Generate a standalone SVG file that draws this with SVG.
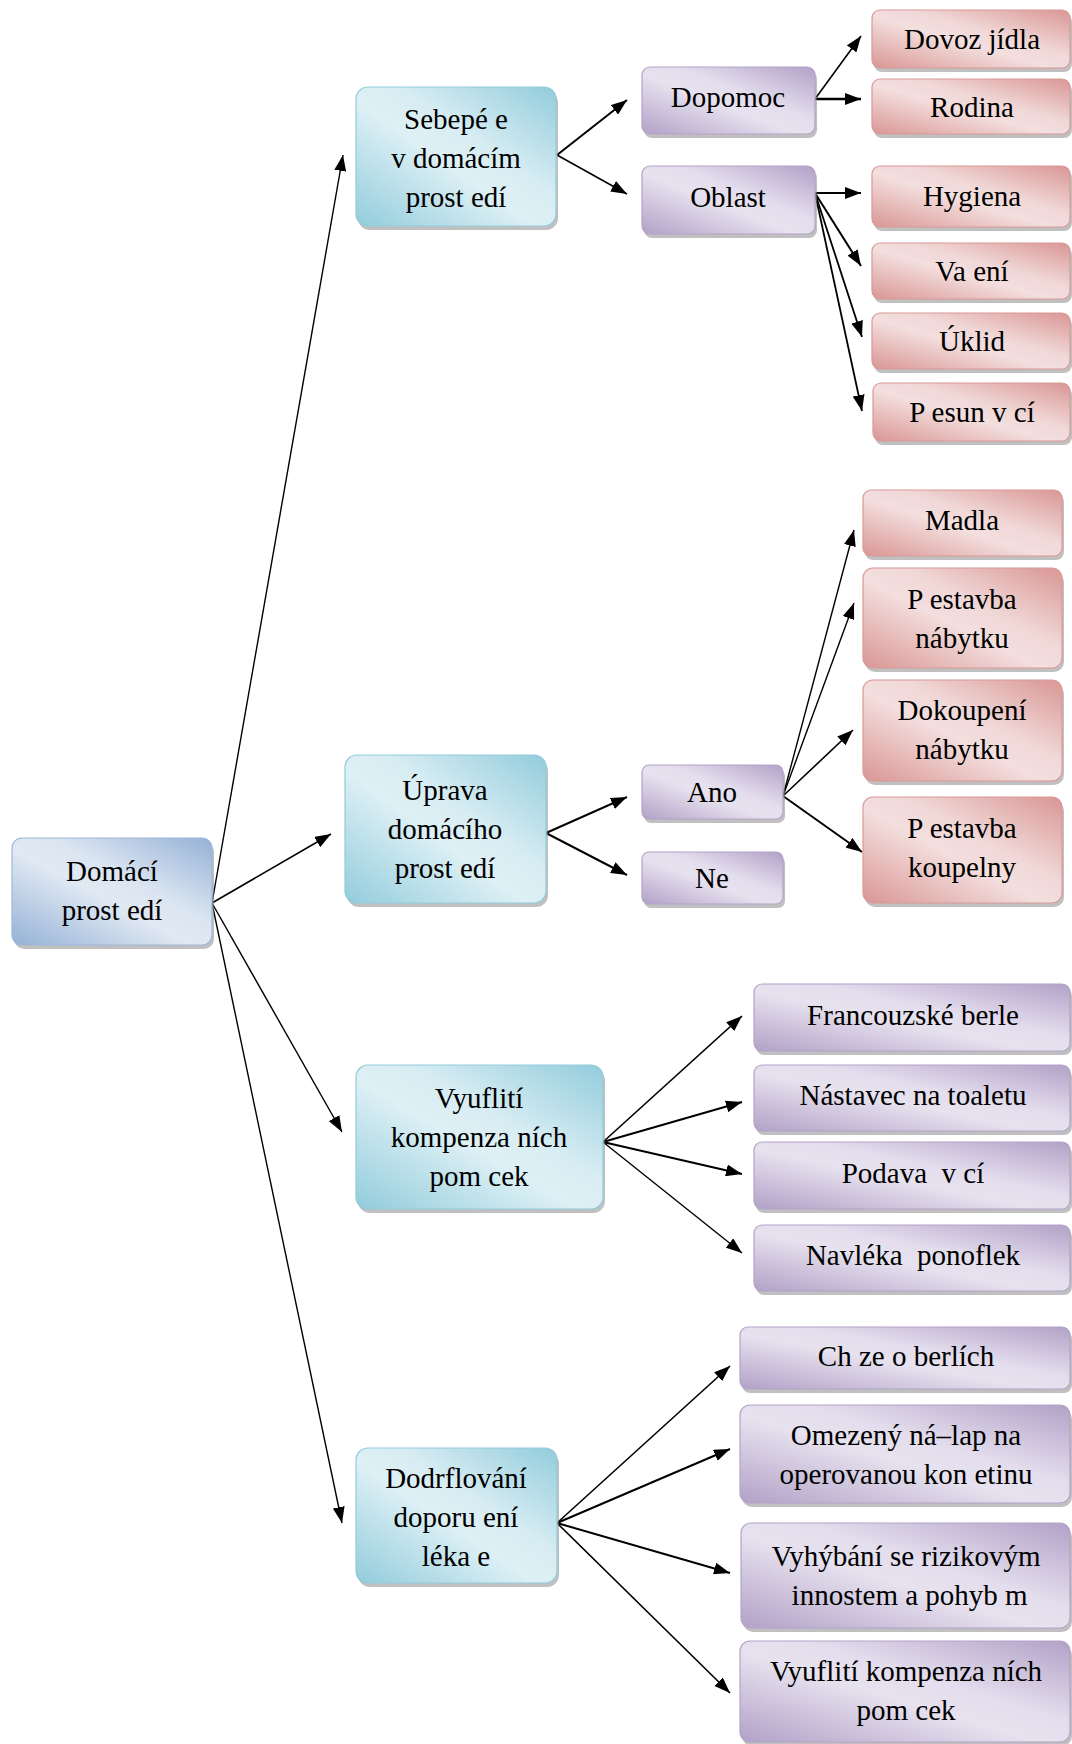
<svg xmlns="http://www.w3.org/2000/svg" width="1072" height="1744" viewBox="0 0 1072 1744">
<style>
text{font-family:"Liberation Serif","Times New Roman",serif;font-size:29px;fill:#000;text-anchor:middle;white-space:pre}
.sh{fill:#8c8c8c;opacity:.55}
.b{fill:url(#gb);stroke:#9fb8da;stroke-width:1.2}
.c{fill:url(#gc);stroke:#93cbdb;stroke-width:1.2}
.p{fill:url(#gp);stroke:#b3a3c8;stroke-width:1.2}
.r{fill:url(#gr);stroke:#d99a98;stroke-width:1.2}
#conn line{stroke:#000;fill:none;marker-end:url(#ah)}
</style>
<defs>
<linearGradient id="gb" x1="0" y1="1" x2="1" y2="0"><stop offset="0" stop-color="#94b1d6"/><stop offset=".45" stop-color="#e1e9f3"/><stop offset=".6" stop-color="#dbe5f1"/><stop offset="1" stop-color="#94b1d6"/></linearGradient>
<linearGradient id="gc" x1="0" y1="1" x2="1" y2="0"><stop offset="0" stop-color="#92ccdc"/><stop offset=".45" stop-color="#ddf0f5"/><stop offset=".6" stop-color="#d8edf3"/><stop offset="1" stop-color="#92ccdc"/></linearGradient>
<linearGradient id="gp" x1="0" y1="1" x2="1" y2="0"><stop offset="0" stop-color="#b2a1c7"/><stop offset=".45" stop-color="#e7e2ef"/><stop offset=".6" stop-color="#e3dded"/><stop offset="1" stop-color="#b2a1c7"/></linearGradient>
<linearGradient id="gr" x1="0" y1="1" x2="1" y2="0"><stop offset="0" stop-color="#d99694"/><stop offset=".45" stop-color="#f3dfde"/><stop offset=".6" stop-color="#f0d8d7"/><stop offset="1" stop-color="#d99694"/></linearGradient>
<marker id="ah" markerUnits="userSpaceOnUse" markerWidth="16" markerHeight="12" refX="16" refY="6" orient="auto"><path d="M0,0 L16,6 L0,12 z" fill="#000"/></marker>
</defs>

<g id="conn">
<line x1="212" y1="903" x2="343" y2="155" stroke-width="1.4"/>
<line x1="212" y1="903" x2="331" y2="834" stroke-width="1.6"/>
<line x1="212" y1="903" x2="342" y2="1132" stroke-width="1.4"/>
<line x1="212" y1="903" x2="342" y2="1523" stroke-width="1.4"/>
<line x1="557" y1="155" x2="627" y2="100" stroke-width="2"/>
<line x1="557" y1="155" x2="627" y2="194" stroke-width="1.6"/>
<line x1="815" y1="99" x2="861" y2="36" stroke-width="1.6"/>
<line x1="815" y1="99" x2="861" y2="99" stroke-width="2.4"/>
<line x1="815" y1="193" x2="861" y2="193" stroke-width="2.2"/>
<line x1="815" y1="193" x2="861" y2="266" stroke-width="2"/>
<line x1="815" y1="193" x2="862" y2="337" stroke-width="1.8"/>
<line x1="815" y1="193" x2="862" y2="411" stroke-width="1.8"/>
<line x1="546" y1="833" x2="627" y2="797" stroke-width="2"/>
<line x1="546" y1="833" x2="627" y2="875" stroke-width="2"/>
<line x1="783" y1="796" x2="854" y2="530" stroke-width="1.4"/>
<line x1="783" y1="796" x2="854" y2="603" stroke-width="1.4"/>
<line x1="783" y1="796" x2="853" y2="730" stroke-width="1.6"/>
<line x1="783" y1="796" x2="862" y2="852" stroke-width="2"/>
<line x1="603" y1="1142" x2="742" y2="1016" stroke-width="1.6"/>
<line x1="603" y1="1142" x2="742" y2="1102" stroke-width="2"/>
<line x1="603" y1="1142" x2="742" y2="1174" stroke-width="2"/>
<line x1="603" y1="1142" x2="742" y2="1253" stroke-width="1.4"/>
<line x1="557" y1="1523" x2="730" y2="1366" stroke-width="1.6"/>
<line x1="557" y1="1523" x2="730" y2="1449" stroke-width="2"/>
<line x1="557" y1="1523" x2="730" y2="1573" stroke-width="2"/>
<line x1="557" y1="1523" x2="730" y2="1693" stroke-width="1.6"/>
</g>

<g id="n-domaci"><rect class="sh" x="14" y="842" width="200" height="107" rx="10"/><rect class="b" x="12" y="838" width="200" height="107" rx="10"/><text x="112" y="881">Domácí</text><text x="112" y="920">prost edí</text></g>

<g id="n-sebepece"><rect class="sh" x="358" y="91" width="200" height="139" rx="12"/><rect class="c" x="356" y="87" width="200" height="139" rx="12"/><text x="456" y="129">Sebepé e</text><text x="456" y="168">v domácím</text><text x="456" y="207">prost edí</text></g>

<g id="n-uprava"><rect class="sh" x="347" y="759" width="201" height="148" rx="12"/><rect class="c" x="345" y="755" width="201" height="148" rx="12"/><text x="445" y="800">Úprava</text><text x="445" y="839">domácího</text><text x="445" y="878">prost edí</text></g>

<g id="n-vyuziti"><rect class="sh" x="358" y="1069" width="247" height="144" rx="12"/><rect class="c" x="356" y="1065" width="247" height="144" rx="12"/><text x="479" y="1108">Vyuflití</text><text x="479" y="1147">kompenza ních</text><text x="479" y="1186">pom cek</text></g>

<g id="n-dodrzovani"><rect class="sh" x="358" y="1452" width="201" height="135" rx="12"/><rect class="c" x="356" y="1448" width="201" height="135" rx="12"/><text x="456" y="1488">Dodrflování</text><text x="456" y="1527">doporu ení</text><text x="456" y="1566">léka e</text></g>

<g id="n-dopomoc"><rect class="sh" x="644" y="71" width="173" height="67" rx="8"/><rect class="p" x="642" y="67" width="173" height="67" rx="8"/><text x="728" y="107">Dopomoc</text></g>

<g id="n-oblast"><rect class="sh" x="644" y="170" width="173" height="68" rx="8"/><rect class="p" x="642" y="166" width="173" height="68" rx="8"/><text x="728" y="207">Oblast</text></g>

<g id="n-dovoz"><rect class="sh" x="874" y="14" width="198" height="58" rx="8"/><rect class="r" x="872" y="10" width="198" height="58" rx="8"/><text x="972" y="49">Dovoz jídla</text></g>

<g id="n-rodina"><rect class="sh" x="874" y="83" width="198" height="55" rx="8"/><rect class="r" x="872" y="79" width="198" height="55" rx="8"/><text x="972" y="117">Rodina</text></g>

<g id="n-hygiena"><rect class="sh" x="874" y="170" width="198" height="61" rx="8"/><rect class="r" x="872" y="166" width="198" height="61" rx="8"/><text x="972" y="206">Hygiena</text></g>

<g id="n-vareni"><rect class="sh" x="874" y="247" width="198" height="56" rx="8"/><rect class="r" x="872" y="243" width="198" height="56" rx="8"/><text x="972" y="281">Va ení</text></g>

<g id="n-uklid"><rect class="sh" x="874" y="317" width="198" height="56" rx="8"/><rect class="r" x="872" y="313" width="198" height="56" rx="8"/><text x="972" y="351">Úklid</text></g>

<g id="n-presun"><rect class="sh" x="875" y="387" width="197" height="58" rx="8"/><rect class="r" x="873" y="383" width="197" height="58" rx="8"/><text x="972" y="422">P esun v cí</text></g>

<g id="n-madla"><rect class="sh" x="865" y="494" width="199" height="66" rx="8"/><rect class="r" x="863" y="490" width="199" height="66" rx="8"/><text x="962" y="530">Madla</text></g>

<g id="n-prestavba-nabytku"><rect class="sh" x="865" y="572" width="199" height="100" rx="10"/><rect class="r" x="863" y="568" width="199" height="100" rx="10"/><text x="962" y="609">P estavba</text><text x="962" y="648">nábytku</text></g>

<g id="n-dokoupeni"><rect class="sh" x="865" y="684" width="199" height="101" rx="10"/><rect class="r" x="863" y="680" width="199" height="101" rx="10"/><text x="962" y="720">Dokoupení</text><text x="962" y="759">nábytku</text></g>

<g id="n-prestavba-koupelny"><rect class="sh" x="865" y="801" width="199" height="106" rx="10"/><rect class="r" x="863" y="797" width="199" height="106" rx="10"/><text x="962" y="838">P estavba</text><text x="962" y="877">koupelny</text></g>

<g id="n-ano"><rect class="sh" x="644" y="769" width="141" height="54" rx="7"/><rect class="p" x="642" y="765" width="141" height="54" rx="7"/><text x="712" y="802">Ano</text></g>

<g id="n-ne"><rect class="sh" x="644" y="856" width="141" height="52" rx="7"/><rect class="p" x="642" y="852" width="141" height="52" rx="7"/><text x="712" y="888">Ne</text></g>

<g id="n-francouzske"><rect class="sh" x="756" y="988" width="316" height="67" rx="8"/><rect class="p" x="754" y="984" width="316" height="67" rx="8"/><text x="913" y="1025">Francouzské berle</text></g>

<g id="n-nastavec"><rect class="sh" x="756" y="1069" width="316" height="66" rx="8"/><rect class="p" x="754" y="1065" width="316" height="66" rx="8"/><text x="913" y="1105">Nástavec na toaletu</text></g>

<g id="n-podavac"><rect class="sh" x="756" y="1146" width="316" height="67" rx="8"/><rect class="p" x="754" y="1142" width="316" height="67" rx="8"/><text x="913" y="1183">Podava  v cí</text></g>

<g id="n-navlekac"><rect class="sh" x="756" y="1229" width="316" height="66" rx="8"/><rect class="p" x="754" y="1225" width="316" height="66" rx="8"/><text x="913" y="1265">Navléka  ponoflek</text></g>

<g id="n-chuze"><rect class="sh" x="742" y="1331" width="330" height="62" rx="8"/><rect class="p" x="740" y="1327" width="330" height="62" rx="8"/><text x="906" y="1366">Ch ze o berlích</text></g>

<g id="n-omezeny"><rect class="sh" x="742" y="1409" width="330" height="98" rx="10"/><rect class="p" x="740" y="1405" width="330" height="98" rx="10"/><text x="906" y="1445">Omezený ná–lap na</text><text x="906" y="1484">operovanou kon etinu</text></g>

<g id="n-vyhybani"><rect class="sh" x="743" y="1527" width="329" height="105" rx="10"/><rect class="p" x="741" y="1523" width="329" height="105" rx="10"/><text x="906" y="1566">Vyhýbání se rizikovým</text><text x="906" y="1605"> innostem a pohyb m</text></g>

<g id="n-vyuziti2"><rect class="sh" x="742" y="1645" width="330" height="101" rx="10"/><rect class="p" x="740" y="1641" width="330" height="101" rx="10"/><text x="906" y="1681">Vyuflití kompenza ních</text><text x="906" y="1720">pom cek</text></g>
</svg>
